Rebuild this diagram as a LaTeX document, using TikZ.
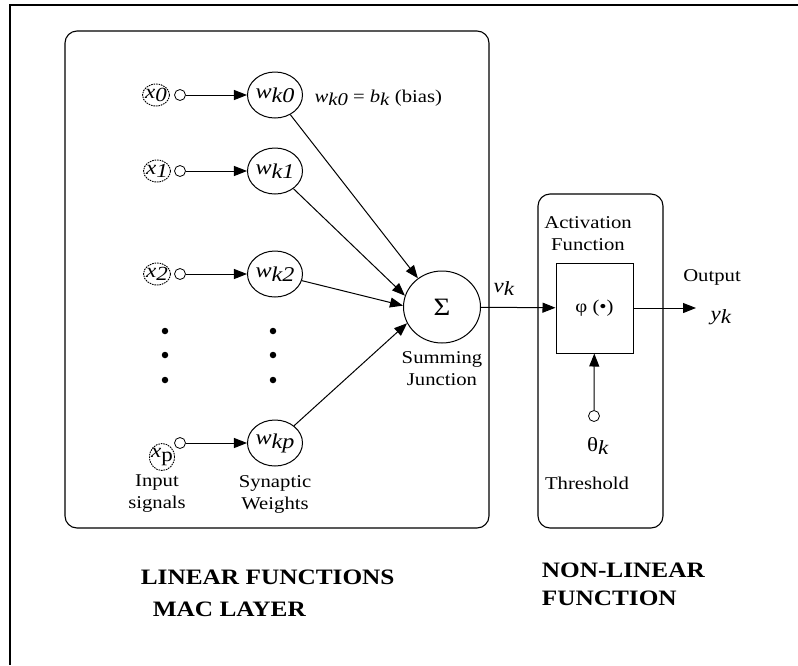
\documentclass[tikz,border=0pt]{standalone}
\usepackage{fontspec}
\setmainfont[FakeStretch=1.15]{Liberation Serif}
\usetikzlibrary{arrows.meta,shapes.geometric}
\newcommand\lowsub[2]{#1\raisebox{-0.35ex}{#2}}
\begin{document}
\begin{tikzpicture}[x=1pt,y=-1pt,
  font=\fontsize{18}{22}\selectfont,
  line width=1pt,
  frame/.style={line width=1.4pt},
  panel/.style={draw,rounded corners=12pt,line width=1.1pt},
  wnode/.style={draw,ellipse,minimum width=51pt,minimum height=46pt,inner sep=0pt,font=\fontsize{21}{22}\selectfont},
  xlab/.style={draw,ellipse,dash pattern=on 1.6pt off 0.9pt,line width=0.9pt,minimum width=27pt,minimum height=22pt,inner sep=-2pt,font=\fontsize{20}{20}\selectfont},
  term/.style={draw,circle,minimum size=11pt,inner sep=0pt,line width=0.8pt},
  sig/.style={-{Triangle[length=13pt,width=10pt]}},
  caption/.style={align=center,font=\fontsize{18}{22}\selectfont},
  heading/.style={anchor=west,font=\fontsize{22}{24}\selectfont\bfseries},
  bigdot/.style={circle,fill,inner sep=0pt,minimum size=6.5pt}]
\useasboundingbox (0,0) rectangle (798,665);

% outer frame (open to the right and bottom)
\draw[frame] (798,5) -- (10,5) -- (10,665);

% the two panels
\draw[panel] (65,31) rectangle (489,528);
\draw[panel] (538,194) rectangle (663,528);

% inputs and terminals
\node[xlab] (x0) at (156,95) {\lowsub{\textit{x}}{\textit{0}}};
\node[xlab] (x1) at (157,171) {\lowsub{\textit{x}}{\textit{1}}};
\node[xlab] (x2) at (157,274) {\lowsub{\textit{x}}{\textit{2}}};
\node[xlab,minimum width=25pt,minimum height=27pt] (xp) at (162,457) {\lowsub{\textit{x}}{p}};
\node[term] (t0) at (180,95) {};
\node[term] (t1) at (180,171) {};
\node[term] (t2) at (180,274) {};
\node[term] (tp) at (180,443) {};

% synaptic weights
\node[wnode] (w0) at (275,95) {\lowsub{\textit{w}}{\textit{k0}}};
\node[wnode] (w1) at (275,171) {\lowsub{\textit{w}}{\textit{k1}}};
\node[wnode] (w2) at (275,274) {\lowsub{\textit{w}}{\textit{k2}}};
\node[wnode] (wp) at (275,443) {\lowsub{\textit{w}}{\textit{kp}}};

\foreach \i in {0,1,2,p} \draw[sig] (t\i) -- (w\i);

% ellipsis dots
\foreach \y [count=\n] in {331,355,380} {
  \node[bigdot] (da\n) at (165,\y) {};
  \node[bigdot] (db\n) at (273,\y) {};
}

% bias note
\node[anchor=west,inner sep=0pt] (bias) at (314,98) {\lowsub{\textit{w}}{\textit{k0}} = \lowsub{\textit{b}}{\textit{k}} (bias)};

% summing junction
\node[draw,ellipse,minimum width=77pt,minimum height=72pt,inner sep=0pt,font=\fontsize{25}{26}\selectfont] (sum) at (442,307) {Σ};
\node[caption] (sumlab) at (442,369) {Summing\\Junction};
\draw[sig] (w0) -- (sum.130);
\draw[sig] (w1) -- (sum.163);
\draw[sig] (w2) -- (sum.178);
\draw[sig] (wp) -- (sum.205);

% activation function
\node[draw,minimum width=77pt,minimum height=90pt,inner sep=0pt] (act) at (594.5,308) {φ (•)};
\node[caption] (actlab) at (588,234) {Activation\\Function};
\draw[sig] (sum) -- (act);
\node[font=\fontsize{20}{22}\selectfont] (vk) at (504,289) {\lowsub{\textit{v}}{\textit{k}}};

% output
\coordinate (out) at (696,308);
\draw[sig] (act) -- (out);
\node (outlab) at (712,277) {Output};
\node[font=\fontsize{20}{22}\selectfont] (yk) at (721,317) {\lowsub{\textit{y}}{\textit{k}}};

% threshold
\node[term] (th) at (594,416) {};
\draw[sig] (th) -- (act);
\node[font=\fontsize{20}{22}\selectfont] (thk) at (598,446) {\lowsub{θ}{\textit{k}}};
\node (thlab) at (587,483) {Threshold};

% captions under the columns
\node[caption] (inlab) at (157,494) {Input\\signals};
\node[caption] (wlab) at (275,494) {Synaptic\\Weights};

% headings
\node[heading] (lin) at (137,577) {LINEAR FUNCTIONS};
\node[heading] (mac) at (149,609) {MAC LAYER};
\node[heading] (nl1) at (538,570) {NON-LINEAR};
\node[heading] (nl2) at (538,598) {FUNCTION};
\end{tikzpicture}
\end{document}
